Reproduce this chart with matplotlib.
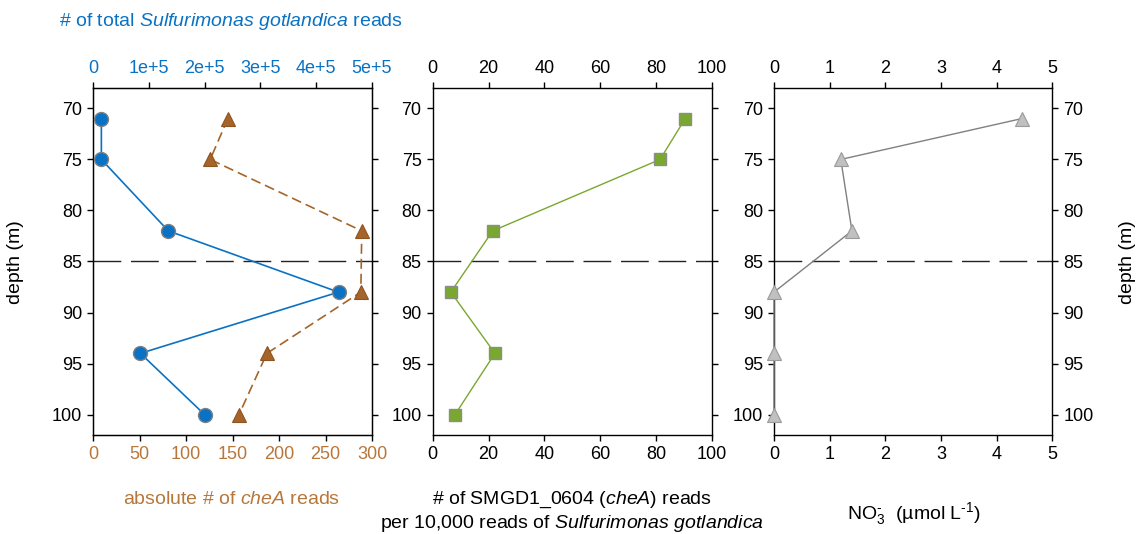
import matplotlib
matplotlib.use("Agg")
import matplotlib.pyplot as plt

plt.rcParams['font.family'] = ['Liberation Sans', 'DejaVu Sans']
plt.rcParams['font.size'] = 13
plt.rcParams['mathtext.fontset'] = 'custom'
plt.rcParams['mathtext.rm'] = 'Liberation Sans'
plt.rcParams['mathtext.it'] = 'Liberation Sans:italic'
plt.rcParams['mathtext.bf'] = 'Liberation Sans:bold'
plt.rcParams['mathtext.sf'] = 'Liberation Sans'

# Sampling depths (m)
depth = [71, 75, 82, 88, 94, 100]
# Total Sulfurimonas gotlandica reads
total_reads = [1.5e4, 1.5e4, 1.35e5, 4.4e5, 8.5e4, 2.0e5]
# Absolute number of cheA reads
chea_abs = [145, 126, 289, 288, 187, 157]
# SMGD1_0604 (cheA) reads per 10,000 S. gotlandica reads
chea_per10k = [90.5, 81.5, 21.5, 6.5, 22.3, 8.0]
# Nitrate concentration (umol/L)
nitrate = [4.45, 1.2, 1.4, 0.0, 0.0, 0.0]

depth_ticks = [70, 75, 80, 85, 90, 95, 100]
redox_depth = 85

BLUE = '#0A72C4'
BROWN = '#A5652A'
BROWN_TXT = '#B8773A'
GREEN = '#7AA82E'
GRAY_FACE = '#C0C0C0'
GRAY_EDGE = '#9A9A9A'
GRAY_LINE = '#808080'
LABEL_SIZE = 14

W, H = 1137, 534
fig = plt.figure(figsize=(W / 100, H / 100), dpi=100)


def frac_box(x0, x1, y0, y1):
    return [x0 / W, 1 - y1 / H, (x1 - x0) / W, (y1 - y0) / H]


ax1 = fig.add_axes(frac_box(93, 372, 88, 435))
ax2 = fig.add_axes(frac_box(432.7, 711.7, 88, 435))
ax3 = fig.add_axes(frac_box(774, 1052.3, 88, 435))

for ax in (ax1, ax2, ax3):
    ax.set_ylim(102, 68)
    ax.set_yticks(depth_ticks)
    ax.tick_params(direction='out', length=4, width=1, pad=4)
    ax.axhline(redox_depth, color='#222222', lw=1.0, dashes=(20, 7), zorder=1)
    for s in ax.spines.values():
        s.set_linewidth(1.0)

# Left panel: absolute cheA reads (bottom axis) and total reads (top axis)
ax1.plot(chea_abs, depth, color=BROWN, lw=1.2, dashes=(6, 3), marker='^',
         ms=10, mfc=BROWN, mec='#8E5420', mew=0.8, zorder=3)
ax1.set_xlim(0, 300)
ax1.set_xticks([0, 50, 100, 150, 200, 250, 300])
ax1.tick_params(axis='x', colors='black', labelcolor=BROWN_TXT)
ax1.tick_params(axis='y', left=True, right=True, labelleft=True, labelright=False)

ax1t = ax1.twiny()
ax1t.plot(total_reads, depth, color=BLUE, lw=1.2, marker='o', ms=10,
          mfc=BLUE, mec='#7F7F7F', mew=1.0, zorder=4)
ax1t.set_xlim(0, 5e5)
ax1t.set_xticks([0, 1e5, 2e5, 3e5, 4e5, 5e5])
ax1t.set_xticklabels(['0', '1e+5', '2e+5', '3e+5', '4e+5', '5e+5'])
ax1t.tick_params(axis='x', direction='out', length=4, width=1, pad=4,
                 colors='black', labelcolor=BLUE)
ax1t.set_ylim(102, 68)

# Middle panel: normalised cheA reads
ax2.plot(chea_per10k, depth, color=GREEN, lw=1.0, marker='s', ms=8.5,
         mfc=GREEN, mec='#8C8C8C', mew=1.0, zorder=3)
ax2.set_xlim(0, 100)
ax2.set_xticks([0, 20, 40, 60, 80, 100])
ax2.tick_params(axis='x', top=True, bottom=True, labeltop=True, labelbottom=True)
ax2.tick_params(axis='y', left=True, right=True, labelleft=True, labelright=False)

# Right panel: nitrate
ax3.plot(nitrate, depth, color=GRAY_LINE, lw=1.0, marker='^', ms=10,
         mfc=GRAY_FACE, mec=GRAY_EDGE, mew=0.8, zorder=3, clip_on=False)
ax3.set_xlim(0, 5)
ax3.set_xticks([0, 1, 2, 3, 4, 5])
ax3.tick_params(axis='x', top=True, bottom=True, labeltop=True, labelbottom=True)
ax3.tick_params(axis='y', left=True, right=True, labelleft=True, labelright=True)

# Axis titles
fig.text(231 / W, 1 - 22 / H, '# of total $\\it{Sulfurimonas\\ gotlandica}$ reads',
         color=BLUE, ha='center', va='center', fontsize=LABEL_SIZE)
fig.text(232 / W, 1 - 500 / H, 'absolute # of $\\it{cheA}$ reads',
         color=BROWN_TXT, ha='center', va='center', fontsize=LABEL_SIZE)
fig.text(572 / W, 1 - 500 / H, '# of SMGD1_0604 ($\\it{cheA}$) reads',
         ha='center', va='center', fontsize=LABEL_SIZE)
fig.text(572 / W, 1 - 523 / H, 'per 10,000 reads of $\\it{Sulfurimonas\\ gotlandica}$',
         ha='center', va='center', fontsize=LABEL_SIZE)
fig.text(914 / W, 1 - 514 / H, 'NO$_3^{\\text{-}}$  (µmol L$^{\\text{-1}}$)',
         ha='center', va='center', fontsize=LABEL_SIZE)
fig.text(15 / W, 1 - 262 / H, 'depth (m)', rotation=90,
         ha='center', va='center', fontsize=LABEL_SIZE)
fig.text(1127 / W, 1 - 262 / H, 'depth (m)', rotation=90,
         ha='center', va='center', fontsize=LABEL_SIZE)

fig.savefig('out.png', dpi=100)
